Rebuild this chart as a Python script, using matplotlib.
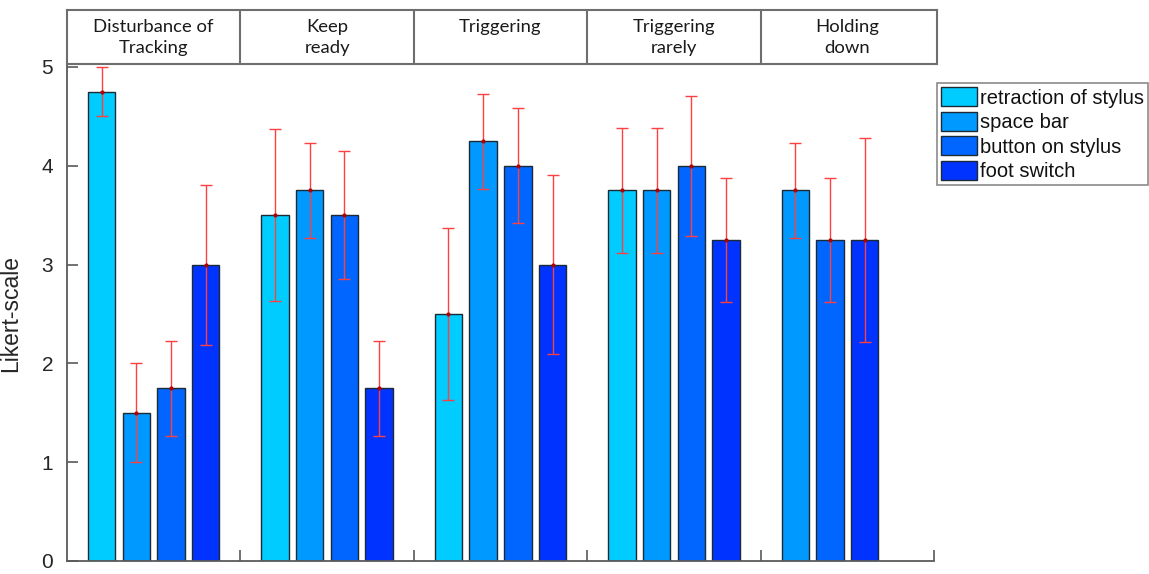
import numpy as np
import matplotlib
matplotlib.use("Agg")
import matplotlib.pyplot as plt
from matplotlib.patches import Patch

# Survey results (Likert scale), mean and error per input method
categories = ["Disturbance of\nTracking", "Keep\nready", "Triggering",
              "Triggering\nrarely", "Holding\ndown"]
series = ["retraction of stylus", "space bar", "button on stylus", "foot switch"]

retraction = [4.75, 3.50, 2.50, 3.75, np.nan]
space_bar = [1.50, 3.75, 4.25, 3.75, 3.75]
button = [1.75, 3.50, 4.00, 4.00, 3.25]
foot = [3.00, 1.75, 3.00, 3.25, 3.25]

retraction_err = [0.25, 0.87, 0.87, 0.63, np.nan]
space_bar_err = [0.50, 0.48, 0.48, 0.63, 0.48]
button_err = [0.48, 0.65, 0.58, 0.71, 0.63]
foot_err = [0.81, 0.48, 0.91, 0.63, 1.03]

y_ticks = [0, 1, 2, 3, 4, 5]
colors = ["#00CCFF", "#0099FF", "#0066FF", "#0033FF"]

means = np.array([retraction, space_bar, button, foot], dtype=float)
errs = np.array([retraction_err, space_bar_err, button_err, foot_err], dtype=float)

W, H = 1149, 574
fig = plt.figure(figsize=(W / 100, H / 100), dpi=100)
plt.rcParams["font.family"] = ["Liberation Sans", "DejaVu Sans"]

axis_gray = "#5a5a5a"
left_px, right_px, bottom_px, top_px = 67, 934, 561, 65
ax = fig.add_axes([left_px / W, 1 - bottom_px / H,
                   (right_px - left_px) / W, (bottom_px - top_px) / H])

n_groups = len(categories)
slot = 0.2
bar_w = 0.158
centers = np.arange(1, n_groups + 1)

for g in range(n_groups):
    present = [s for s in range(len(series)) if not np.isnan(means[s, g])]
    for k, s in enumerate(present):
        x = centers[g] + (k - 1.5) * slot
        ax.bar(x, means[s, g], width=bar_w, color=colors[s],
               edgecolor="#1e2a33", linewidth=1.0, zorder=2)
        ax.errorbar(x, means[s, g], yerr=errs[s, g], fmt="o", ms=2,
                    mfc="#b00000", mec="#b00000", ecolor="#ff4040",
                    elinewidth=1.0, capsize=4, capthick=1.0, zorder=3)

ax.set_xlim(0.5, n_groups + 0.5)
ax.set_ylim(0, 5.02)
ax.set_yticks(y_ticks)
ax.set_xticks(np.arange(1.5, n_groups + 1, 1.0))
ax.set_xticklabels([])
ax.tick_params(axis="both", direction="in", length=8, width=1.2,
               color=axis_gray)
ax.tick_params(axis="y", labelsize=15, labelcolor="#262626", pad=10)
for side in ("top", "right"):
    ax.spines[side].set_visible(False)
for side in ("left", "bottom"):
    ax.spines[side].set_color(axis_gray)
    ax.spines[side].set_linewidth(1.3)
ax.set_ylabel("Likert-scale", fontsize=16.5, color="#262626")
ax.yaxis.set_label_coords((22 - left_px) / (right_px - left_px), 0.5)

# Category header row drawn as a table-like strip above the plot
hdr_left, hdr_right, hdr_top, hdr_bottom = 67, 937, 10, 64
hax = fig.add_axes([hdr_left / W, 1 - hdr_bottom / H,
                    (hdr_right - hdr_left) / W, (hdr_bottom - hdr_top) / H])
group_px = (right_px - left_px) / n_groups
hax.set_xlim(0.5, 0.5 + (hdr_right - hdr_left) / group_px)
hax.set_ylim(0, 1)
hax.set_xticks([])
hax.set_yticks([])
for sp in hax.spines.values():
    sp.set_color("#6e6e6e")
    sp.set_linewidth(1.5)
for b in np.arange(1.5, n_groups, 1.0):
    hax.axvline(b, color="#6e6e6e", lw=1.5)
for g, name in enumerate(categories):
    hax.text(centers[g], 0.84, name, ha="center", va="top",
             fontsize=13.3, family=["Lato", "DejaVu Sans"],
             color="#1a1a1a", linespacing=1.42)

handles = [Patch(facecolor=c, edgecolor="#1e2a33", linewidth=1.0) for c in colors]
leg = fig.legend(handles, series, loc="upper left",
                 bbox_to_anchor=(937 / W, 1 - 83 / H),
                 fontsize=14.5, frameon=True, fancybox=False,
                 handlelength=1.8, handleheight=1.1, handletextpad=0.15,
                 labelspacing=0.2, borderpad=0.2, borderaxespad=0)
leg.get_frame().set_edgecolor("#6e6e6e")
leg.get_frame().set_linewidth(1.2)
for t in leg.get_texts():
    t.set_color("#111111")

fig.savefig("out.png", dpi=100)
